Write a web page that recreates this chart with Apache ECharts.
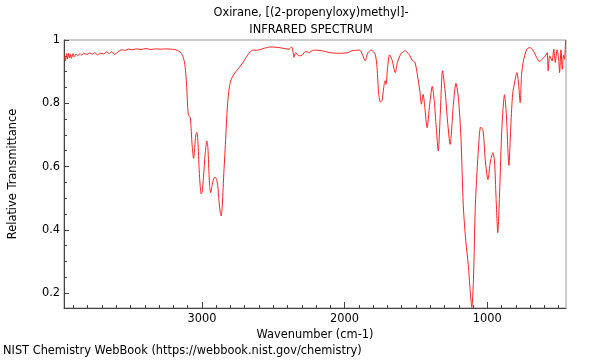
<!DOCTYPE html>
<html>
<head>
<meta charset="utf-8">
<script src="https://cdn.jsdelivr.net/npm/echarts@6/dist/echarts.min.js"></script>
<style>
html,body{margin:0;padding:0;background:#fff;}
#chart{width:600px;height:360px;}
</style>
</head>
<body>
<div id="chart"></div>
<script>
const titleLines = ["Oxirane, [(2-propenyloxy)methyl]-", "INFRARED SPECTRUM"];
const xAxisName = "Wavenumber (cm-1)";
const yAxisName = "Relative Transmittance";
const footer = "NIST Chemistry WebBook (https://webbook.nist.gov/chemistry)";

const xMajorTicks = [3000, 2000, 1000];
const xMinorTicks = [500,600,700,800,900,1100,1200,1300,1400,1500,1600,1700,1800,1900,2100,2200,2300,2400,2500,2600,2700,2800,2900,3100,3200,3300,3400,3500,3600,3700,3800,3900];
const yMajorTicks = [0.2, 0.4, 0.6, 0.8, 1];
const yMinorTicks = [0.25,0.3,0.35,0.45,0.5,0.55,0.65,0.7,0.75,0.85,0.9,0.95];

const wavenumbers = [
3961,3955,3948,3941,3934,3927,3921,3914,3903,3893,3882,3869,3855,3841,3827,3807,3786,3765,3751,3731,3710,3689,3668,3648,3634,3613,3599,3578,3558,3537,3516,3489,3461,3426,3392,3357,3323,3288,3254,3219,3191,3171,3153,3136,3122,3113,3106,3100,3095,3088,3081,3074,3068,3058,3050,3043,3035,3028,3019,3012,3005,2998,2989,2977,2965,2958,2953,2946,2938,2929,2918,2908,2898,2889,2880,2871,2865,2858,2851,2845,2839,2832,2827,2822,2816,2808,2798,2775,2747,2712,2678,2643,2609,2563,2516,2459,2390,2371,2362,2355,2343,2321,2298,2274,2252,2217,2160,2102,2044,1975,1952,1894,1876,1856,1837,1814,1786,1773,1761,1749,1738,1726,1717,1710,1699,1685,1669,1645,1630,1607,1579,1549,1526,1507,1491,1473,1462,1450,1438,1422,1404,1386,1372,1358,1344,1330,1314,1296,1279,1261,1238,1220,1203,1185,1169,1153,1134,1120,1109,1097,1084,1065,1047,1030,1014,996,978,961,950,939,927,913,899,880,867,849,835,823,807,793,781,770,760,747,724,701,678,655,636,616,593,581,574,563,546,535,524,512,501,494,484,475,466,459,452
];
const transmittance = [
0.950,0.935,0.957,0.940,0.958,0.944,0.955,0.942,0.957,0.946,0.956,0.950,0.957,0.952,0.958,0.954,0.959,0.955,0.960,0.953,0.958,0.956,0.962,0.957,0.963,0.955,0.958,0.966,0.969,0.967,0.971,0.969,0.972,0.970,0.973,0.970,0.972,0.971,0.972,0.971,0.970,0.967,0.962,0.952,0.930,0.895,0.850,0.790,0.765,0.758,0.754,0.710,0.665,0.626,0.660,0.700,0.708,0.680,0.590,0.540,0.514,0.520,0.565,0.640,0.681,0.660,0.610,0.540,0.517,0.540,0.560,0.567,0.560,0.540,0.490,0.455,0.444,0.470,0.533,0.590,0.639,0.700,0.744,0.785,0.818,0.848,0.871,0.892,0.908,0.929,0.953,0.968,0.968,0.974,0.978,0.976,0.971,0.978,0.965,0.945,0.960,0.950,0.952,0.964,0.960,0.968,0.966,0.960,0.958,0.960,0.966,0.968,0.955,0.934,0.960,0.968,0.955,0.913,0.828,0.804,0.808,0.850,0.871,0.860,0.913,0.953,0.939,0.897,0.929,0.955,0.966,0.955,0.936,0.929,0.892,0.839,0.797,0.828,0.786,0.723,0.797,0.853,0.808,0.723,0.649,0.765,0.903,0.839,0.744,0.670,0.797,0.863,0.818,0.691,0.480,0.375,0.290,0.206,0.155,0.248,0.480,0.639,0.725,0.713,0.618,0.559,0.618,0.644,0.618,0.502,0.391,0.533,0.713,0.827,0.765,0.604,0.734,0.828,0.871,0.897,0.860,0.802,0.892,0.934,0.971,0.976,0.966,0.945,0.932,0.939,0.950,0.960,0.903,0.950,0.934,0.971,0.929,0.969,0.945,0.897,0.969,0.908,0.952,0.939,1.0
];

const xMin = 449, xMax = 3966, yMin = 0.153, yMax = 1;
const seriesData = wavenumbers.map((w, i) => [w, transmittance[i]]);
const font = "DejaVu Sans";
const fs = 11.4;

const chart = echarts.init(document.getElementById('chart'), null, {renderer: 'canvas'});
chart.setOption({
  animation: false,
  backgroundColor: '#fff',
  textStyle: {fontFamily: font},
  title: {
    text: titleLines.join('\n'),
    left: 311, top: 5, padding: 0, textAlign: 'center',
    textStyle: {fontFamily: font, fontSize: fs, fontWeight: 'normal', color: '#000', lineHeight: 17}
  },
  graphic: [{
    type: 'text', left: 3, top: 346,
    style: {text: footer, font: fs + 'px "DejaVu Sans"', fill: '#000'}
  }],
  grid: {left: 57, right: 34, top: 40, bottom: 52, show: true, borderColor: '#999', borderWidth: 1, containLabel: false},
  xAxis: [{
    type: 'value', inverse: true, min: xMin, max: xMax, position: 'bottom',
    name: xAxisName, nameLocation: 'middle', nameGap: 19,
    nameTextStyle: {fontFamily: font, fontSize: fs, color: '#000'},
    axisLine: {show: true, lineStyle: {color: '#444'}},
    axisTick: {show: true, inside: true, length: 6, customValues: xMajorTicks, lineStyle: {color: '#444'}},
    axisLabel: {show: true, customValues: xMajorTicks, margin: 6, fontFamily: font, fontSize: fs, color: '#000', formatter: v => String(v)},
    splitLine: {show: false}
  }, {
    type: 'value', inverse: true, min: xMin, max: xMax, position: 'bottom',
    axisLine: {show: false},
    axisTick: {show: true, inside: true, length: 3, customValues: xMinorTicks, lineStyle: {color: '#444'}},
    axisLabel: {show: false},
    splitLine: {show: false}
  }],
  yAxis: [{
    type: 'value', min: yMin, max: yMax, position: 'left',
    name: yAxisName, nameLocation: 'middle', nameGap: 45, nameRotate: 90,
    nameTextStyle: {fontFamily: font, fontSize: fs, color: '#000'},
    axisLine: {show: true, lineStyle: {color: '#444'}},
    axisTick: {show: true, inside: true, length: 5, customValues: yMajorTicks, lineStyle: {color: '#444'}},
    axisLabel: {show: true, customValues: yMajorTicks, margin: 4, fontFamily: font, fontSize: fs, color: '#000', formatter: v => String(v)},
    splitLine: {show: false}
  }, {
    type: 'value', min: yMin, max: yMax, position: 'left',
    axisLine: {show: false},
    axisTick: {show: true, inside: true, length: 3, customValues: yMinorTicks, lineStyle: {color: '#444'}},
    axisLabel: {show: false},
    splitLine: {show: false}
  }],
  series: [{
    type: 'line', xAxisIndex: 0, yAxisIndex: 0,
    data: seriesData, showSymbol: false, symbol: 'none',
    smooth: 0.25,
    lineStyle: {color: '#ff2020', width: 1},
    clip: true
  }]
});
</script>
</body>
</html>
